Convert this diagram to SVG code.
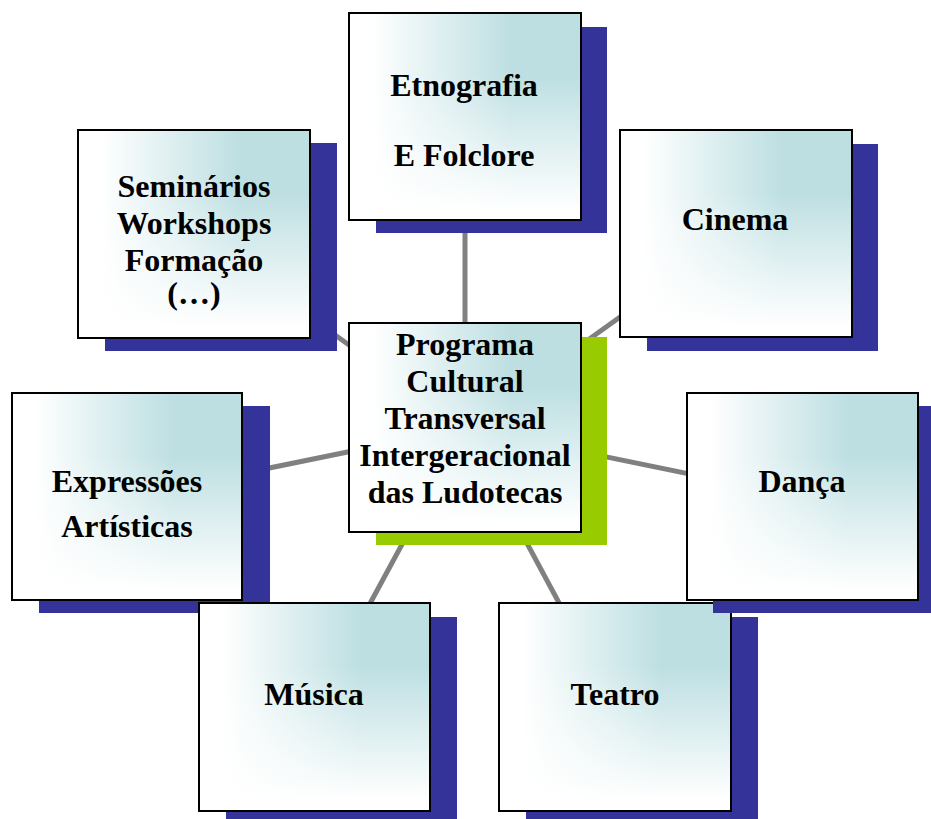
<svg xmlns="http://www.w3.org/2000/svg" width="931" height="819" viewBox="0 0 931 819">
<style>
.sh{fill:#333399}
.shg{fill:#99cc00}
.bh{fill:url(#gh)}
.bv{fill:url(#gv)}
.bx{fill:none;stroke:#000;stroke-width:2}
.t{font-family:"Liberation Serif","Times New Roman",serif;font-weight:bold;font-size:32px;fill:#000;text-anchor:middle}
.c{stroke:#808080;stroke-width:5;fill:none}
</style>
<defs>
<linearGradient id="gh" x1="0" y1="0" x2="1" y2="0">
<stop offset="0" stop-color="#ffffff"/>
<stop offset="0.1" stop-color="#ffffff"/>
<stop offset="0.7" stop-color="#bddfe2"/>
<stop offset="1" stop-color="#bddfe2"/>
</linearGradient>
<linearGradient id="gv" x1="0" y1="0" x2="0" y2="1">
<stop offset="0" stop-color="#ffffff" stop-opacity="0"/>
<stop offset="0.3" stop-color="#ffffff" stop-opacity="0"/>
<stop offset="0.95" stop-color="#ffffff" stop-opacity="1"/>
<stop offset="1" stop-color="#ffffff" stop-opacity="1"/>
</linearGradient>
</defs>
<rect width="931" height="819" fill="#fff"/>
<g id="connectors">
<line class="c" x1="465" y1="428" x2="465" y2="117"/>
<line class="c" x1="465" y1="428" x2="194" y2="234"/>
<line class="c" x1="465" y1="428" x2="736" y2="234"/>
<line class="c" x1="465" y1="428" x2="127" y2="497"/>
<line class="c" x1="465" y1="428" x2="802" y2="497"/>
<line class="c" x1="465" y1="428" x2="314" y2="707"/>
<line class="c" x1="465" y1="428" x2="615" y2="707"/>
</g>
<g id="etnografia">
<rect class="sh" x="376" y="27" width="231" height="206"/>
<rect class="bh" x="349" y="13" width="232" height="207"/>
<rect class="bv" x="349" y="13" width="232" height="207"/>
<rect class="bx" x="349" y="13" width="232" height="207"/>
<text class="t" x="464" y="96">Etnografia</text>
<text class="t" x="464" y="166">E Folclore</text>
</g>
<g id="seminarios">
<rect class="sh" x="105" y="143" width="232" height="208"/>
<rect class="bh" x="78" y="130" width="232" height="208"/>
<rect class="bv" x="78" y="130" width="232" height="208"/>
<rect class="bx" x="78" y="130" width="232" height="208"/>
<text class="t" x="194" y="197">Seminários</text>
<text class="t" x="194" y="234">Workshops</text>
<text class="t" x="194" y="271">Formação</text>
<text class="t" x="194" y="304">(…)</text>
</g>
<g id="cinema">
<rect class="sh" x="647" y="144" width="231" height="207"/>
<rect class="bh" x="620" y="130" width="232" height="207"/>
<rect class="bv" x="620" y="130" width="232" height="207"/>
<rect class="bx" x="620" y="130" width="232" height="207"/>
<text class="t" x="735" y="230">Cinema</text>
</g>
<g id="teatro">
<rect class="sh" x="526" y="617" width="232" height="208"/>
<rect class="bh" x="499" y="603" width="232" height="208"/>
<rect class="bv" x="499" y="603" width="232" height="208"/>
<rect class="bx" x="499" y="603" width="232" height="208"/>
<text class="t" x="615" y="705">Teatro</text>
</g>
<g id="danca">
<rect class="sh" x="713" y="406" width="231" height="207"/>
<rect class="bh" x="687" y="393" width="231" height="207"/>
<rect class="bv" x="687" y="393" width="231" height="207"/>
<rect class="bx" x="687" y="393" width="231" height="207"/>
<text class="t" x="802" y="492">Dança</text>
</g>
<g id="expressoes">
<rect class="sh" x="39" y="406" width="231" height="207"/>
<rect class="bh" x="12" y="393" width="230" height="207"/>
<rect class="bv" x="12" y="393" width="230" height="207"/>
<rect class="bx" x="12" y="393" width="230" height="207"/>
<text class="t" x="127" y="492">Expressões</text>
<text class="t" x="127" y="537">Artísticas</text>
</g>
<g id="musica">
<rect class="sh" x="226" y="617" width="231" height="208"/>
<rect class="bh" x="199" y="603" width="231" height="208"/>
<rect class="bv" x="199" y="603" width="231" height="208"/>
<rect class="bx" x="199" y="603" width="231" height="208"/>
<text class="t" x="314" y="705">Música</text>
</g>
<g id="centro">
<rect class="shg" x="376" y="337" width="231" height="208"/>
<rect class="bh" x="349" y="323" width="232" height="209"/>
<rect class="bv" x="349" y="323" width="232" height="209"/>
<rect class="bx" x="349" y="323" width="232" height="209"/>
<text class="t" x="465" y="355">Programa</text>
<text class="t" x="465" y="392">Cultural</text>
<text class="t" x="465" y="429">Transversal</text>
<text class="t" x="465" y="466">Intergeracional</text>
<text class="t" x="465" y="503">das Ludotecas</text>
</g>
</svg>
